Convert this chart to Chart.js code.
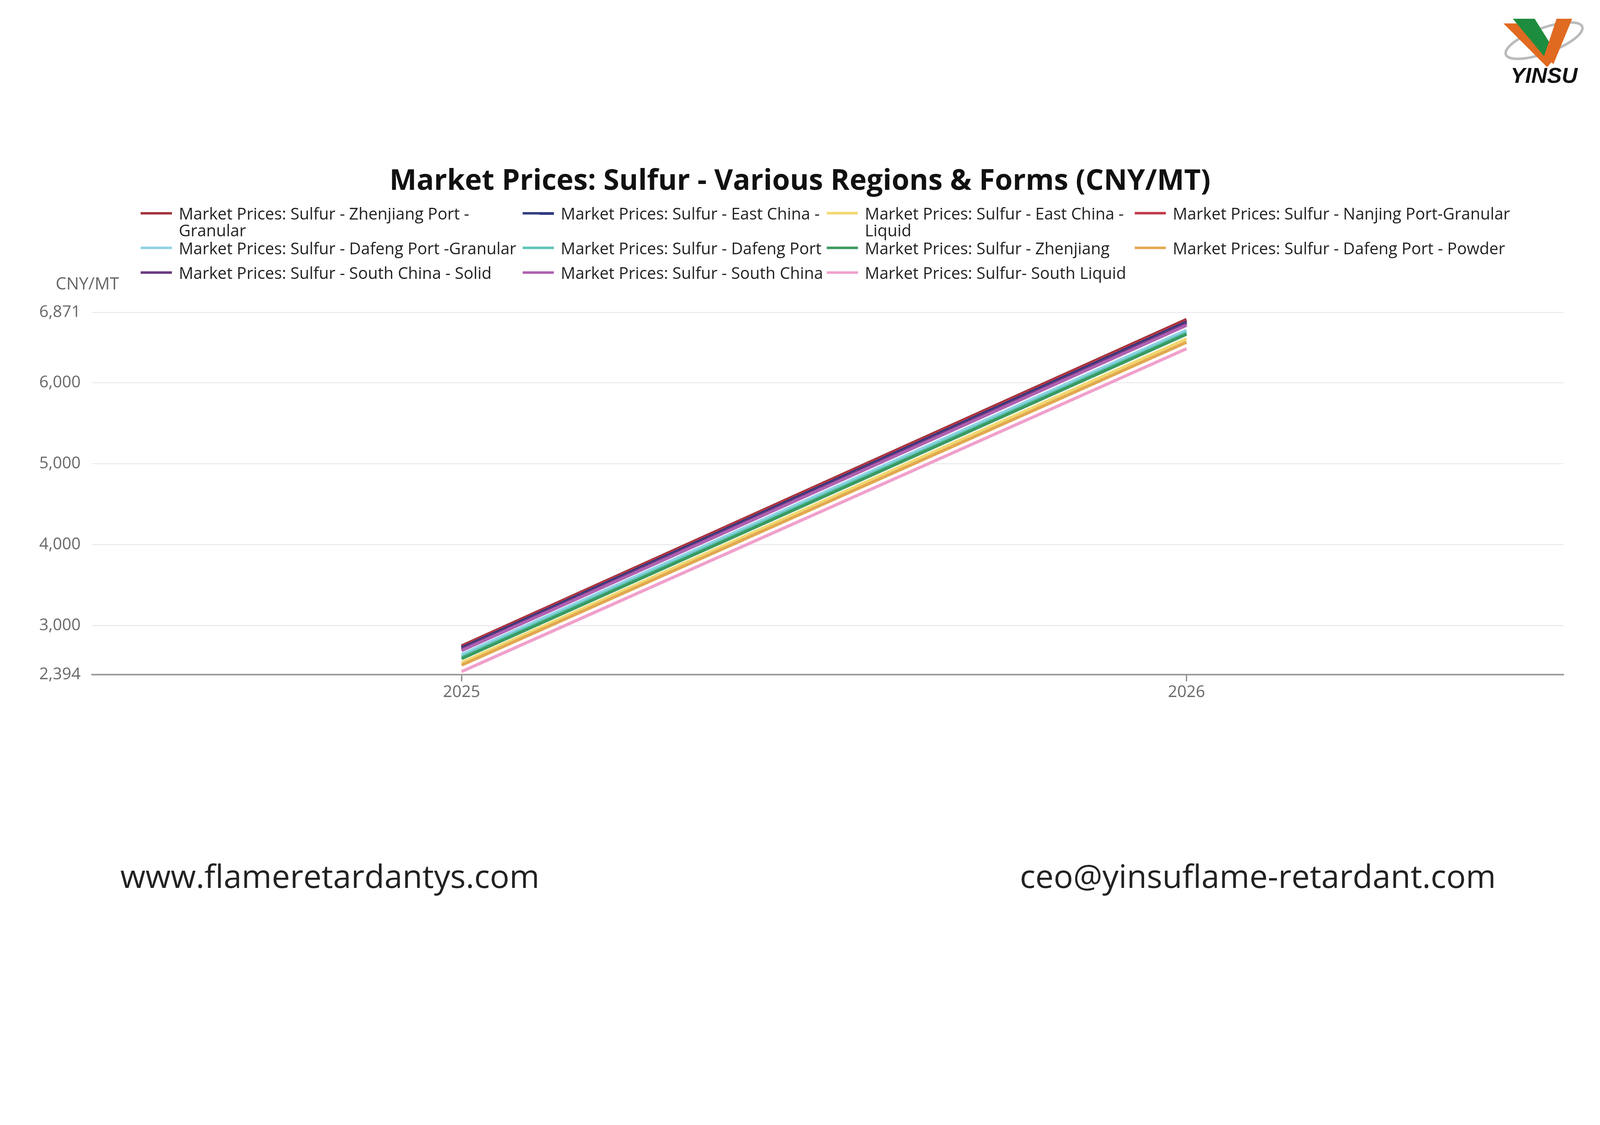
<!DOCTYPE html>
<html>
<head>
<meta charset="utf-8">
<script src="https://cdn.jsdelivr.net/npm/chart.js@4.4.0/dist/chart.umd.min.js"></script>
<style>
  html, body { margin: 0; background: #fff; font-family: "Open Sans", sans-serif; overflow: hidden; }
  #wrap { position: relative; width: 5119px; height: 2880px; overflow: hidden; transform-origin: 0 0; }
  #c { position: absolute; left: 0; top: 0; }
  .abs { position: absolute; white-space: pre; }
  #title { left: 0; width: 5119px; top: 510px; text-align: center; font-size: 92px; font-weight: bold; color: #111; }
  .lg { position: absolute; font-size: 52px; line-height: 54px; color: #222; white-space: pre-line; }
  .sw { position: absolute; width: 100px; height: 8px; }
  #unit { left: 178px; top: 868px; font-size: 54px; color: #666; }
  .foot { top: 2730px; font-size: 104px; color: #222; }
</style>
</head>
<body>
<div id="wrap">
  <canvas id="c" width="5119" height="2880"></canvas>
  <div id="title" class="abs">Market Prices: Sulfur - Various Regions &amp; Forms (CNY/MT)</div>
  <div id="legend"></div>
  <div id="unit" class="abs">CNY/MT</div>
  <div class="abs foot" style="left:385px">www.flameretardantys.com</div>
  <div class="abs foot" style="right:333px">ceo@yinsuflame-retardant.com</div>
  <svg class="abs" style="left:4790px;top:40px" width="300" height="230" viewBox="0 0 300 230">
    <ellipse cx="150" cy="90" rx="130" ry="40" fill="none" stroke="#bbb" stroke-width="8" transform="rotate(-20 150 90)"/>
    <polygon points="20,35 120,35 190,140 160,175" fill="#e06a20"/>
    <polygon points="50,20 120,20 170,100 150,140" fill="#1e8c3e"/>
    <polygon points="150,140 190,20 240,20 180,165" fill="#e06a20"/>
    <text x="150" y="225" text-anchor="middle" font-family="Liberation Sans" font-weight="bold" font-style="italic" font-size="70" fill="#111">YINSU</text>
  </svg>
</div>
<script>
var years = [2025, 2026]
var yTicks = [2394, 3000, 4000, 5000, 6000, 6871]
var names = [
  "Market Prices: Sulfur - Zhenjiang Port -\nGranular",
  "Market Prices: Sulfur - East China -",
  "Market Prices: Sulfur - East China -\nLiquid",
  "Market Prices: Sulfur - Nanjing Port-Granular",
  "Market Prices: Sulfur - Dafeng Port -Granular",
  "Market Prices: Sulfur - Dafeng Port",
  "Market Prices: Sulfur - Zhenjiang",
  "Market Prices: Sulfur - Dafeng Port - Powder",
  "Market Prices: Sulfur - South China - Solid",
  "Market Prices: Sulfur - South China",
  "Market Prices: Sulfur- South Liquid"
]
var colors = ["#a0303a", "#2e3a80", "#f2d770", "#c23a48", "#90d2e6", "#5fc4b8", "#3a9a60", "#e2a850", "#6a3a80", "#b060b0", "#f0a0cc"]
var zhenjiangPortGranular = [2747, 6782]
var eastChina = [2722, 6750]
var eastChinaLiquid = [2540, 6540]
var nanjingPortGranular = [2735, 6765]
var dafengPortGranular = [2640, 6650]
var dafengPort = [2610, 6620]
var zhenjiang = [2590, 6600]
var dafengPortPowder = [2510, 6500]
var southChinaSolid = [2705, 6730]
var southChina = [2690, 6710]
var southLiquid = [2430, 6420]
var series = [zhenjiangPortGranular, eastChina, eastChinaLiquid, nanjingPortGranular, dafengPortGranular,
  dafengPort, zhenjiang, dafengPortPowder, southChinaSolid, southChina, southLiquid]

// fit the 5119-wide layout into whatever the viewport is
var k = window.innerWidth / 5119
document.getElementById('wrap').style.transform = 'scale(' + k + ')'

// html legend, 4 columns
var colX = [450, 1672, 2645, 3630]
var rowY = [655, 766, 845]
var lg = document.getElementById('legend')
names.forEach(function (n, i) {
  var col = i % 4, row = Math.floor(i / 4)
  var sw = document.createElement('div')
  sw.className = 'sw'
  sw.style.left = colX[col] + 'px'
  sw.style.top = (rowY[row] + 23) + 'px'
  sw.style.background = colors[i]
  lg.appendChild(sw)
  var t = document.createElement('div')
  t.className = 'lg'
  t.style.left = (colX[col] + 122) + 'px'
  t.style.top = rowY[row] + 'px'
  t.textContent = n
  lg.appendChild(t)
})

var datasets = series.map(function (s, i) {
  return {
    label: names[i],
    data: years.map(function (y, j) { return { x: y, y: s[j] } }),
    borderColor: colors[i],
    borderWidth: 10,
    pointRadius: 0,
    tension: 0
  }
})
// draw top lines last
var order = [10, 7, 2, 6, 5, 4, 9, 8, 1, 3, 0]

new Chart(document.getElementById('c'), {
  type: 'line',
  data: { datasets: order.map(function (i) { return datasets[i] }) },
  options: {
    responsive: false,
    animation: false,
    devicePixelRatio: 1,
    layout: { padding: { top: 999, right: 117, left: 0, bottom: 0 } },
    plugins: { legend: { display: false }, tooltip: { enabled: false } },
    scales: {
      x: {
        type: 'linear', min: 2024.49, max: 2026.52,
        afterBuildTicks: function (s) { s.ticks = years.map(function (v) { return { value: v } }) },
        afterFit: function (s) { s.height = 722 },
        ticks: { color: '#666', font: { family: 'Open Sans', size: 52 }, padding: 4, callback: function (v) { return String(v) } },
        grid: { drawOnChartArea: false, tickLength: 22, color: '#888', lineWidth: 4 },
        border: { color: '#999', width: 5 }
      },
      y: {
        min: 2394, max: 6871,
        afterBuildTicks: function (s) { s.ticks = yTicks.map(function (v) { return { value: v } }) },
        afterFit: function (s) { s.width = 294 },
        ticks: { color: '#666', font: { family: 'Open Sans', size: 52 }, padding: 36,
          callback: function (v) { return v.toLocaleString('en-US') } },
        grid: { color: '#e8e8ee', lineWidth: 3, drawTicks: false },
        border: { display: false }
      }
    }
  }
})
</script>
</body>
</html>
